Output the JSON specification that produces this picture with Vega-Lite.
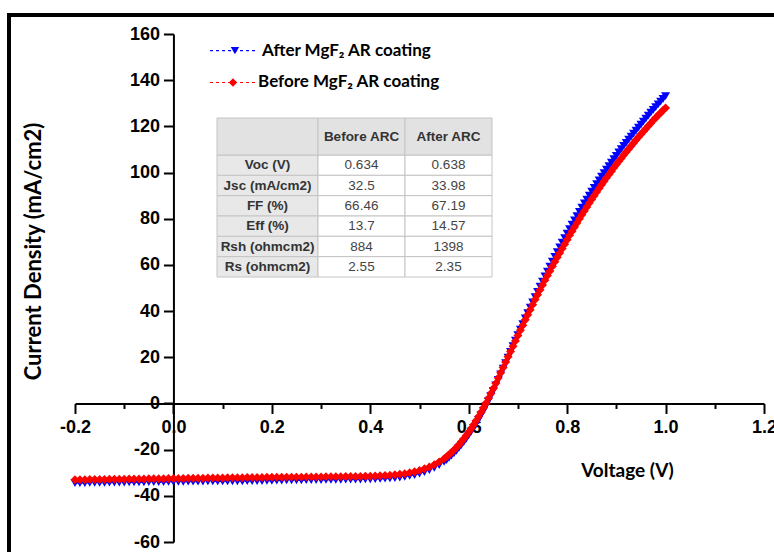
{
  "$schema": "https://vega.github.io/schema/vega-lite/v6.json",
  "width": 689,
  "height": 508,
  "autosize": {"type": "none"},
  "padding": {"left": 75, "top": 34, "right": 10, "bottom": 10},
  "background": "white",
  "config": {"view": {"stroke": null}},
  "datasets": {
    "jv": [
      {"v": -0.20, "a": -34.5, "b": -33.0}, {"v": -0.19, "a": -34.5, "b": -33.0}, {"v": -0.18, "a": -34.5, "b": -33.0},
      {"v": -0.17, "a": -34.4, "b": -32.9}, {"v": -0.16, "a": -34.4, "b": -32.9}, {"v": -0.15, "a": -34.4, "b": -32.9},
      {"v": -0.14, "a": -34.4, "b": -32.9}, {"v": -0.13, "a": -34.3, "b": -32.8}, {"v": -0.12, "a": -34.3, "b": -32.8},
      {"v": -0.11, "a": -34.3, "b": -32.8}, {"v": -0.10, "a": -34.3, "b": -32.8}, {"v": -0.09, "a": -34.2, "b": -32.7},
      {"v": -0.08, "a": -34.2, "b": -32.7}, {"v": -0.07, "a": -34.2, "b": -32.7}, {"v": -0.06, "a": -34.2, "b": -32.7},
      {"v": -0.05, "a": -34.1, "b": -32.6}, {"v": -0.04, "a": -34.1, "b": -32.6}, {"v": -0.03, "a": -34.1, "b": -32.6},
      {"v": -0.02, "a": -34.1, "b": -32.6}, {"v": -0.01, "a": -34.0, "b": -32.5}, {"v": 0.00, "a": -34.0, "b": -32.5},
      {"v": 0.01, "a": -34.0, "b": -32.5}, {"v": 0.02, "a": -34.0, "b": -32.5}, {"v": 0.03, "a": -33.9, "b": -32.4},
      {"v": 0.04, "a": -33.9, "b": -32.4}, {"v": 0.05, "a": -33.9, "b": -32.4}, {"v": 0.06, "a": -33.9, "b": -32.4},
      {"v": 0.07, "a": -33.8, "b": -32.3}, {"v": 0.08, "a": -33.8, "b": -32.3}, {"v": 0.09, "a": -33.8, "b": -32.3},
      {"v": 0.10, "a": -33.8, "b": -32.3}, {"v": 0.11, "a": -33.7, "b": -32.2}, {"v": 0.12, "a": -33.7, "b": -32.2},
      {"v": 0.13, "a": -33.7, "b": -32.2}, {"v": 0.14, "a": -33.7, "b": -32.2}, {"v": 0.15, "a": -33.6, "b": -32.1},
      {"v": 0.16, "a": -33.6, "b": -32.1}, {"v": 0.17, "a": -33.6, "b": -32.1}, {"v": 0.18, "a": -33.6, "b": -32.1},
      {"v": 0.19, "a": -33.5, "b": -32.0}, {"v": 0.20, "a": -33.5, "b": -32.0}, {"v": 0.21, "a": -33.4, "b": -32.0},
      {"v": 0.22, "a": -33.4, "b": -32.0}, {"v": 0.23, "a": -33.3, "b": -31.9}, {"v": 0.24, "a": -33.3, "b": -31.9},
      {"v": 0.25, "a": -33.3, "b": -31.9}, {"v": 0.26, "a": -33.3, "b": -31.9}, {"v": 0.27, "a": -33.2, "b": -31.8},
      {"v": 0.28, "a": -33.2, "b": -31.8}, {"v": 0.29, "a": -33.2, "b": -31.8}, {"v": 0.30, "a": -33.2, "b": -31.8},
      {"v": 0.31, "a": -33.1, "b": -31.7}, {"v": 0.32, "a": -33.1, "b": -31.7}, {"v": 0.33, "a": -33.1, "b": -31.7},
      {"v": 0.34, "a": -33.1, "b": -31.7}, {"v": 0.35, "a": -33.0, "b": -31.6}, {"v": 0.36, "a": -33.0, "b": -31.6},
      {"v": 0.37, "a": -33.0, "b": -31.6}, {"v": 0.38, "a": -33.0, "b": -31.6}, {"v": 0.39, "a": -32.9, "b": -31.5},
      {"v": 0.40, "a": -32.9, "b": -31.5}, {"v": 0.41, "a": -32.8, "b": -31.4}, {"v": 0.42, "a": -32.7, "b": -31.3},
      {"v": 0.43, "a": -32.6, "b": -31.2}, {"v": 0.44, "a": -32.5, "b": -31.1}, {"v": 0.45, "a": -32.3, "b": -30.9},
      {"v": 0.46, "a": -32.1, "b": -30.7}, {"v": 0.47, "a": -31.8, "b": -30.4}, {"v": 0.48, "a": -31.4, "b": -30.0},
      {"v": 0.49, "a": -31.0, "b": -29.6}, {"v": 0.50, "a": -30.4, "b": -29.0}, {"v": 0.51, "a": -29.7, "b": -28.3},
      {"v": 0.52, "a": -28.9, "b": -27.5}, {"v": 0.53, "a": -27.9, "b": -26.5}, {"v": 0.54, "a": -26.7, "b": -25.3},
      {"v": 0.55, "a": -25.3, "b": -23.9}, {"v": 0.555, "a": -24.5, "b": -23.1}, {"v": 0.56, "a": -23.6, "b": -22.2},
      {"v": 0.565, "a": -22.6, "b": -21.2}, {"v": 0.57, "a": -21.6, "b": -20.2}, {"v": 0.575, "a": -20.5, "b": -19.1},
      {"v": 0.58, "a": -19.3, "b": -17.9}, {"v": 0.585, "a": -18.0, "b": -16.6}, {"v": 0.59, "a": -16.7, "b": -15.3},
      {"v": 0.595, "a": -15.3, "b": -13.9}, {"v": 0.60, "a": -13.8, "b": -12.4}, {"v": 0.605, "a": -12.2, "b": -10.8},
      {"v": 0.61, "a": -10.6, "b": -9.2}, {"v": 0.615, "a": -8.9, "b": -7.5}, {"v": 0.62, "a": -7.1, "b": -5.7},
      {"v": 0.625, "a": -5.2, "b": -3.8}, {"v": 0.63, "a": -3.3, "b": -1.9}, {"v": 0.635, "a": -1.2, "b": 0.1},
      {"v": 0.64, "a": 0.9, "b": 2.2}, {"v": 0.645, "a": 3.2, "b": 4.3}, {"v": 0.65, "a": 5.5, "b": 6.5},
      {"v": 0.655, "a": 7.8, "b": 8.7}, {"v": 0.66, "a": 10.2, "b": 11.0}, {"v": 0.665, "a": 12.6, "b": 13.3},
      {"v": 0.67, "a": 15.1, "b": 15.6}, {"v": 0.675, "a": 17.5, "b": 17.9}, {"v": 0.68, "a": 19.9, "b": 20.2},
      {"v": 0.685, "a": 22.3, "b": 22.5}, {"v": 0.69, "a": 24.8, "b": 24.8}, {"v": 0.695, "a": 27.2, "b": 27.1},
      {"v": 0.70, "a": 29.6, "b": 29.4}, {"v": 0.705, "a": 32.0, "b": 31.7}, {"v": 0.71, "a": 34.4, "b": 33.9},
      {"v": 0.715, "a": 36.8, "b": 36.2}, {"v": 0.72, "a": 39.1, "b": 38.4}, {"v": 0.725, "a": 41.5, "b": 40.6},
      {"v": 0.73, "a": 43.8, "b": 42.8}, {"v": 0.735, "a": 46.1, "b": 45.0}, {"v": 0.74, "a": 48.3, "b": 47.1},
      {"v": 0.745, "a": 50.6, "b": 49.2}, {"v": 0.75, "a": 52.8, "b": 51.3}, {"v": 0.755, "a": 55.0, "b": 53.4},
      {"v": 0.76, "a": 57.1, "b": 55.4}, {"v": 0.765, "a": 59.3, "b": 57.4}, {"v": 0.77, "a": 61.4, "b": 59.4},
      {"v": 0.775, "a": 63.5, "b": 61.4}, {"v": 0.78, "a": 65.5, "b": 63.3}, {"v": 0.785, "a": 67.6, "b": 65.2},
      {"v": 0.79, "a": 69.6, "b": 67.1}, {"v": 0.795, "a": 71.6, "b": 69.0}, {"v": 0.80, "a": 73.5, "b": 70.9},
      {"v": 0.805, "a": 75.5, "b": 72.8}, {"v": 0.81, "a": 77.4, "b": 74.6}, {"v": 0.815, "a": 79.3, "b": 76.4},
      {"v": 0.82, "a": 81.1, "b": 78.2}, {"v": 0.825, "a": 83.0, "b": 80.0}, {"v": 0.83, "a": 84.8, "b": 81.7},
      {"v": 0.835, "a": 86.6, "b": 83.4}, {"v": 0.84, "a": 88.3, "b": 85.1}, {"v": 0.845, "a": 90.0, "b": 86.8},
      {"v": 0.85, "a": 91.7, "b": 88.4}, {"v": 0.855, "a": 93.4, "b": 90.0}, {"v": 0.86, "a": 95.0, "b": 91.6},
      {"v": 0.865, "a": 96.6, "b": 93.2}, {"v": 0.87, "a": 98.2, "b": 94.7}, {"v": 0.875, "a": 99.8, "b": 96.2},
      {"v": 0.88, "a": 101.3, "b": 97.7}, {"v": 0.885, "a": 102.8, "b": 99.2}, {"v": 0.89, "a": 104.3, "b": 100.6},
      {"v": 0.895, "a": 105.8, "b": 102.1}, {"v": 0.90, "a": 107.2, "b": 103.5}, {"v": 0.905, "a": 108.7, "b": 104.9},
      {"v": 0.91, "a": 110.1, "b": 106.2}, {"v": 0.915, "a": 111.5, "b": 107.6}, {"v": 0.92, "a": 112.9, "b": 108.9},
      {"v": 0.925, "a": 114.3, "b": 110.2}, {"v": 0.93, "a": 115.6, "b": 111.5}, {"v": 0.935, "a": 116.9, "b": 112.8},
      {"v": 0.94, "a": 118.2, "b": 114.1}, {"v": 0.945, "a": 119.5, "b": 115.4}, {"v": 0.95, "a": 120.8, "b": 116.6},
      {"v": 0.955, "a": 122.1, "b": 117.8}, {"v": 0.96, "a": 123.4, "b": 119.0}, {"v": 0.965, "a": 124.7, "b": 120.2},
      {"v": 0.97, "a": 125.9, "b": 121.4}, {"v": 0.975, "a": 127.1, "b": 122.6}, {"v": 0.98, "a": 128.3, "b": 123.7},
      {"v": 0.985, "a": 129.5, "b": 124.8}, {"v": 0.99, "a": 130.7, "b": 125.9}, {"v": 0.995, "a": 131.9, "b": 127.0},
      {"v": 1.00, "a": 133.1, "b": 128.0}
    ],
    "tbl": [
      {"p": "Voc (V)", "b": "0.634", "a": "0.638"},
      {"p": "Jsc (mA/cm2)", "b": "32.5", "a": "33.98"},
      {"p": "FF (%)", "b": "66.46", "a": "67.19"},
      {"p": "Eff (%)", "b": "13.7", "a": "14.57"},
      {"p": "Rsh (ohmcm2)", "b": "884", "a": "1398"},
      {"p": "Rs (ohmcm2)", "b": "2.55", "a": "2.35"}
    ],
    "hdr": [
      {"col": "p", "t": "", "r": "H"},
      {"col": "b", "t": "Before ARC", "r": "H"},
      {"col": "a", "t": "After ARC", "r": "H"}
    ]
  },
  "layer": [
    {
      "data": {"name": "jv"},
      "layer": [
        {
          "data": {"values": [{}]},
          "mark": {"type": "rect", "fillOpacity": 0, "stroke": "black", "strokeWidth": 4},
          "encoding": {
            "x": {"datum": -0.3341},
            "x2": {"datum": 1.4},
            "y": {"datum": 168.2},
            "y2": {"datum": -90}
          }
        },
        {
          "mark": {"type": "line", "color": "#0000ff", "strokeWidth": 1, "strokeDash": [3, 3]},
          "encoding": {
            "x": {
              "field": "v", "type": "quantitative", "title": "Voltage (V)",
              "scale": {"domain": [-0.2, 1.2], "nice": false, "zero": false},
              "axis": {
                "values": [-0.2, -0.1, 0, 0.1, 0.2, 0.3, 0.4, 0.5, 0.6, 0.7, 0.8, 0.9, 1.0, 1.1, 1.2],
                "labelExpr": "abs(datum.value*5 - round(datum.value*5)) < 0.001 ? replace(format(datum.value, '.1f'), '\u2212', '-') : ''",
                "offset": -138.55,
                "tickSize": {"condition": {"test": "abs(datum.value*5 - round(datum.value*5)) < 0.001", "value": 10}, "value": 5},
                "grid": false,
                "domainColor": "black", "domainWidth": 2,
                "tickColor": "black", "tickWidth": 2,
                "labelFont": "Liberation Sans", "labelFontWeight": "bold", "labelFontSize": 18, "labelColor": "black",
                "labelPadding": 5, "labelFlush": false, "labelOverlap": false,
                "titleFont": "Lato", "titleFontSize": 19, "titleFontWeight": "bold", "titleColor": "black",
                "titleX": 552, "titleY": 67, "titleAlign": "center", "titleBaseline": "middle", "titleAngle": 0
              }
            },
            "y": {
              "field": "a", "type": "quantitative", "title": "Current Density (mA/cm2)",
              "scale": {"domain": [-60, 160], "nice": false, "zero": false},
              "axis": {
                "values": [-60, -50, -40, -30, -20, -10, 0, 10, 20, 30, 40, 50, 60, 70, 80, 90, 100, 110, 120, 130, 140, 150, 160],
                "labelExpr": "datum.value % 20 === 0 ? '' + datum.value : ''",
                "offset": -98.43,
                "tickSize": {"condition": {"test": "datum.value % 20 === 0", "value": 10}, "value": 5},
                "grid": false,
                "domainColor": "black", "domainWidth": 2,
                "tickColor": "black", "tickWidth": 2,
                "labelFont": "Liberation Sans", "labelFontWeight": "bold", "labelFontSize": 18, "labelColor": "black",
                "labelPadding": 4, "labelFlush": false, "labelOverlap": false,
                "titleFont": "Lato", "titleFontSize": 22, "titleFontWeight": "bold", "titleColor": "black",
                "titleX": -140, "titleY": 217, "titleAlign": "center", "titleBaseline": "middle", "titleAngle": -90
              }
            }
          }
        },
        {
          "mark": {"type": "point", "shape": "triangle-down", "filled": true, "color": "#0000ff", "size": 80, "opacity": 1},
          "encoding": {
            "x": {"field": "v", "type": "quantitative", "title": "Voltage (V)"},
            "y": {"field": "a", "type": "quantitative", "title": "Current Density (mA/cm2)"}
          }
        },
        {
          "mark": {"type": "line", "color": "#ff0000", "strokeWidth": 1, "strokeDash": [3, 3]},
          "encoding": {
            "x": {"field": "v", "type": "quantitative", "title": "Voltage (V)"},
            "y": {"field": "b", "type": "quantitative", "title": "Current Density (mA/cm2)"}
          }
        },
        {
          "mark": {"type": "point", "shape": "diamond", "filled": true, "color": "#ff0000", "size": 80, "opacity": 1},
          "encoding": {
            "x": {"field": "v", "type": "quantitative", "title": "Voltage (V)"},
            "y": {"field": "b", "type": "quantitative", "title": "Current Density (mA/cm2)"}
          }
        },
        {
          "data": {"values": [{"label": "After MgF₂ AR coating"}]},
          "encoding": {"y": {"datum": 152.8}},
          "layer": [
            {"mark": {"type": "rule", "color": "#0000ff", "strokeDash": [3, 3], "strokeWidth": 1.2}, "encoding": {"x": {"datum": 0.0744}, "x2": {"datum": 0.172}}},
            {"mark": {"type": "point", "shape": "triangle-down", "filled": true, "color": "#0000ff", "size": 70, "opacity": 1}, "encoding": {"x": {"datum": 0.125}}},
            {"mark": {"type": "text", "align": "left", "baseline": "middle", "font": "Lato", "fontSize": 17, "fontWeight": "bold", "color": "black"}, "encoding": {"x": {"datum": 0.18}, "text": {"field": "label"}}}
          ]
        },
        {
          "data": {"values": [{"label": "Before MgF₂ AR coating"}]},
          "encoding": {"y": {"datum": 139.0}},
          "layer": [
            {"mark": {"type": "rule", "color": "#ff0000", "strokeDash": [3, 3], "strokeWidth": 1.2}, "encoding": {"x": {"datum": 0.0744}, "x2": {"datum": 0.172}}},
            {"mark": {"type": "point", "shape": "diamond", "filled": true, "color": "#ff0000", "size": 70, "opacity": 1}, "encoding": {"x": {"datum": 0.121}}},
            {"mark": {"type": "text", "align": "left", "baseline": "middle", "font": "Lato", "fontSize": 17, "fontWeight": "bold", "color": "black"}, "encoding": {"x": {"datum": 0.172}, "text": {"field": "label"}}}
          ]
        }
      ]
    },
    {
      "layer": [
        {
          "data": {"name": "tbl"},
          "transform": [{"fold": ["p", "b", "a"], "as": ["col", "val"]}, {"filter": "datum.col === 'p'"}],
          "encoding": {
            "x": {"field": "col", "type": "nominal", "scale": {"domain": ["p"], "range": [142, 243], "paddingInner": 0, "paddingOuter": 0}, "axis": null},
            "y": {"field": "p", "type": "nominal", "scale": {"domain": ["Voc (V)", "Jsc (mA/cm2)", "FF (%)", "Eff (%)", "Rsh (ohmcm2)", "Rs (ohmcm2)"], "range": [121, 243], "paddingInner": 0, "paddingOuter": 0}, "axis": null}
          },
          "layer": [
            {"mark": {"type": "rect", "fill": "#e8e8e8", "stroke": "#c4c4c4", "strokeWidth": 1}},
            {"mark": {"type": "text", "font": "Liberation Sans", "fontSize": 13.5, "fontWeight": "bold", "color": "#333333"}, "encoding": {"text": {"field": "val"}}}
          ]
        },
        {
          "data": {"name": "hdr"},
          "transform": [{"filter": "datum.col === 'p'"}],
          "encoding": {
            "x": {"field": "col", "type": "nominal", "scale": {"domain": ["p"], "range": [142, 243], "paddingInner": 0, "paddingOuter": 0}, "axis": null},
            "y": {"field": "r", "type": "nominal", "scale": {"domain": ["H"], "range": [84, 121], "paddingInner": 0, "paddingOuter": 0}, "axis": null}
          },
          "layer": [
            {"mark": {"type": "rect", "fill": "#e2e2e2", "stroke": "#c4c4c4", "strokeWidth": 1}},
            {"mark": {"type": "text", "font": "Liberation Sans", "fontSize": 13.5, "fontWeight": "bold", "color": "#333333"}, "encoding": {"text": {"field": "t"}}}
          ]
        }
      ],
      "resolve": {"scale": {"y": "independent"}}
    },
    {
      "layer": [
        {
          "data": {"name": "tbl"},
          "transform": [{"fold": ["p", "b", "a"], "as": ["col", "val"]}, {"filter": "datum.col === 'b'"}],
          "encoding": {
            "x": {"field": "col", "type": "nominal", "scale": {"domain": ["b"], "range": [243, 330], "paddingInner": 0, "paddingOuter": 0}, "axis": null},
            "y": {"field": "p", "type": "nominal", "scale": {"domain": ["Voc (V)", "Jsc (mA/cm2)", "FF (%)", "Eff (%)", "Rsh (ohmcm2)", "Rs (ohmcm2)"], "range": [121, 243], "paddingInner": 0, "paddingOuter": 0}, "axis": null}
          },
          "layer": [
            {"mark": {"type": "rect", "fill": "#ffffff", "stroke": "#c4c4c4", "strokeWidth": 1}},
            {"mark": {"type": "text", "font": "Liberation Sans", "fontSize": 13.5, "color": "#444444"}, "encoding": {"text": {"field": "val"}}}
          ]
        },
        {
          "data": {"name": "hdr"},
          "transform": [{"filter": "datum.col === 'b'"}],
          "encoding": {
            "x": {"field": "col", "type": "nominal", "scale": {"domain": ["b"], "range": [243, 330], "paddingInner": 0, "paddingOuter": 0}, "axis": null},
            "y": {"field": "r", "type": "nominal", "scale": {"domain": ["H"], "range": [84, 121], "paddingInner": 0, "paddingOuter": 0}, "axis": null}
          },
          "layer": [
            {"mark": {"type": "rect", "fill": "#e2e2e2", "stroke": "#c4c4c4", "strokeWidth": 1}},
            {"mark": {"type": "text", "font": "Liberation Sans", "fontSize": 13.5, "fontWeight": "bold", "color": "#333333"}, "encoding": {"text": {"field": "t"}}}
          ]
        }
      ],
      "resolve": {"scale": {"y": "independent"}}
    },
    {
      "layer": [
        {
          "data": {"name": "tbl"},
          "transform": [{"fold": ["p", "b", "a"], "as": ["col", "val"]}, {"filter": "datum.col === 'a'"}],
          "encoding": {
            "x": {"field": "col", "type": "nominal", "scale": {"domain": ["a"], "range": [330, 417], "paddingInner": 0, "paddingOuter": 0}, "axis": null},
            "y": {"field": "p", "type": "nominal", "scale": {"domain": ["Voc (V)", "Jsc (mA/cm2)", "FF (%)", "Eff (%)", "Rsh (ohmcm2)", "Rs (ohmcm2)"], "range": [121, 243], "paddingInner": 0, "paddingOuter": 0}, "axis": null}
          },
          "layer": [
            {"mark": {"type": "rect", "fill": "#ffffff", "stroke": "#c4c4c4", "strokeWidth": 1}},
            {"mark": {"type": "text", "font": "Liberation Sans", "fontSize": 13.5, "color": "#444444"}, "encoding": {"text": {"field": "val"}}}
          ]
        },
        {
          "data": {"name": "hdr"},
          "transform": [{"filter": "datum.col === 'a'"}],
          "encoding": {
            "x": {"field": "col", "type": "nominal", "scale": {"domain": ["a"], "range": [330, 417], "paddingInner": 0, "paddingOuter": 0}, "axis": null},
            "y": {"field": "r", "type": "nominal", "scale": {"domain": ["H"], "range": [84, 121], "paddingInner": 0, "paddingOuter": 0}, "axis": null}
          },
          "layer": [
            {"mark": {"type": "rect", "fill": "#e2e2e2", "stroke": "#c4c4c4", "strokeWidth": 1}},
            {"mark": {"type": "text", "font": "Liberation Sans", "fontSize": 13.5, "fontWeight": "bold", "color": "#333333"}, "encoding": {"text": {"field": "t"}}}
          ]
        }
      ],
      "resolve": {"scale": {"y": "independent"}}
    }
  ],
  "resolve": {"scale": {"x": "independent", "y": "independent"}}
}
